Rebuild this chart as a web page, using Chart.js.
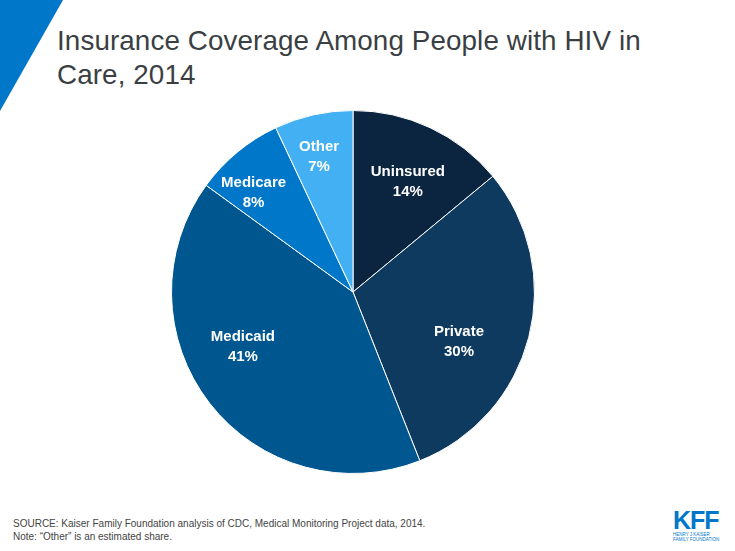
<!DOCTYPE html>
<html><head><meta charset="utf-8">
<script src="https://cdn.jsdelivr.net/npm/chart.js@4"></script>
<style>
body{margin:0;width:735px;height:551px;background:#fff;position:relative;overflow:hidden;font-family:Arial,"Liberation Sans",sans-serif}
#tri{position:absolute;left:0;top:0;width:63px;height:111px;background:#0077c8;clip-path:polygon(0 0,100% 0,0 100%)}
#title{position:absolute;left:57px;top:24px;font-size:27.8px;line-height:34px;color:#3a3f44;letter-spacing:0.1px}
#src{position:absolute;left:13px;top:517px;font-size:10px;line-height:13px;color:#444}
#logo{position:absolute;left:673px;top:508px;color:#0077c8}
#logo b{display:block;font-size:25px;line-height:24px;font-weight:bold;letter-spacing:-1px}
#logo span{display:block;font-size:4.5px;line-height:5px}
#wrap{position:absolute;left:153px;top:92px;width:400px;height:400px}
</style></head><body>
<div id="tri"></div>
<div id="title">Insurance Coverage Among People with HIV in<br>Care, 2014</div>
<div id="wrap"><canvas id="c"></canvas></div>
<div id="src">SOURCE: Kaiser Family Foundation analysis of CDC, Medical Monitoring Project data, 2014.<br>Note: “Other” is an estimated share.</div>
<div id="logo"><b>KFF</b><span>HENRY J KAISER<br>FAMILY FOUNDATION</span></div>
<script>
var categories = ['Uninsured', 'Private', 'Medicaid', 'Medicare', 'Other'];
var shares = [14, 30, 41, 8, 7];
var colors = ['#0b2540', '#0f3a60', '#00568f', '#0077c8', '#43b0f3'];
var labelRadius = [0.71, 0.62, 0.67, 0.79, 0.78];
// small nudges in pixels so labels sit where the original puts them
var labelShift = [[0, 6], [-3, 22], [-14, -20], [-8, 11], [-3, 3]];

var labelPlugin = {
    id: 'sliceLabels',
    afterDatasetsDraw: function (chart) {
        var ctx = chart.ctx;
        var meta = chart.getDatasetMeta(0);
        ctx.save();
        ctx.fillStyle = '#fff';
        ctx.font = 'bold 15px Arial, "Liberation Sans"';
        ctx.textAlign = 'center';
        ctx.textBaseline = 'middle';
        meta.data.forEach(function (arc, i) {
            var mid = (arc.startAngle + arc.endAngle) / 2;
            var r = arc.outerRadius * labelRadius[i];
            var x = arc.x + Math.cos(mid) * r + labelShift[i][0];
            var y = arc.y + Math.sin(mid) * r + labelShift[i][1];
            ctx.fillText(categories[i], x, y - 10);
            ctx.fillText(shares[i] + '%', x, y + 10);
        });
        ctx.restore();
    }
};

new Chart(document.getElementById('c'), {
    type: 'pie',
    data: {
        labels: categories,
        datasets: [{ data: shares, backgroundColor: colors, borderColor: '#fff', borderWidth: 1 }]
    },
    options: {
        responsive: true,
        maintainAspectRatio: false,
        animation: false,
        layout: { padding: 18 },
        plugins: { legend: { display: false }, tooltip: { enabled: false } }
    },
    plugins: [labelPlugin]
});
</script>
</body></html>
